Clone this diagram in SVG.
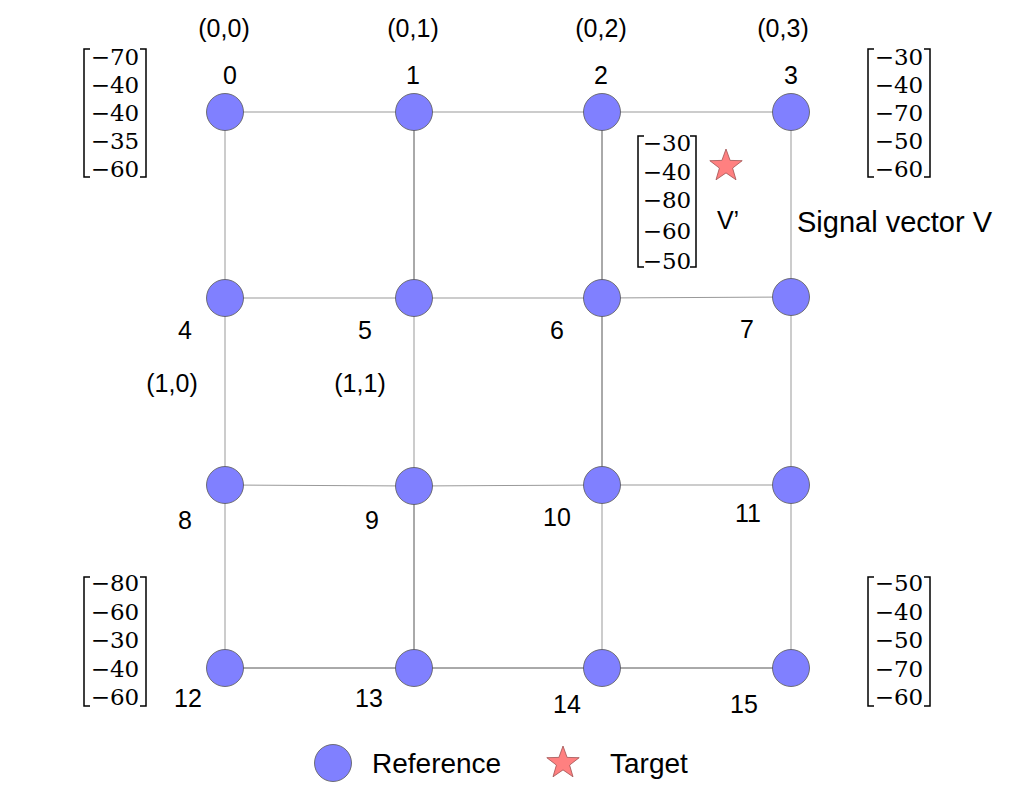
<svg xmlns="http://www.w3.org/2000/svg" width="1024" height="790" viewBox="0 0 1024 790">
<style>
.lbl{font-family:"Liberation Sans",Arial,sans-serif;font-size:25px;fill:#000;text-anchor:middle}
.leg{font-family:"Liberation Sans",Arial,sans-serif;font-size:28px;fill:#000}
.mx{font-family:"DejaVu Serif","Liberation Serif",serif;font-size:23px;fill:#000;text-anchor:middle}
.br{fill:none;stroke:#000;stroke-width:1.5}
.node{fill:#8080FF;stroke:#555;stroke-width:0.8}
.star{fill:#FF8080;stroke:#a05050;stroke-width:0.8}
.e{stroke:#999;stroke-width:1}
.ed{stroke:#555;stroke-width:1}
</style>
<defs>
<polygon id="starshape" points="0,-17 4.1,-5.6 16.2,-5.3 6.6,2.1 10,13.8 0,6.9 -10,13.8 -6.6,2.1 -16.2,-5.3 -4.1,-5.6"/>
</defs>
<rect width="1024" height="790" fill="#fff"/>
<g id="connectors">
<line class="e" x1="225" y1="112" x2="414" y2="112"/>
<line class="e" x1="414" y1="112" x2="602" y2="112"/>
<line class="e" x1="602" y1="112" x2="791" y2="112"/>
<line class="e" x1="225" y1="298" x2="414" y2="298"/>
<line class="e" x1="414" y1="298" x2="602" y2="298"/>
<line class="e" x1="602" y1="298" x2="791" y2="297"/>
<line class="e" x1="225" y1="485" x2="414" y2="486"/>
<line class="e" x1="414" y1="486" x2="602" y2="485"/>
<line class="e" x1="602" y1="485" x2="791" y2="485"/>
<line class="ed" x1="225" y1="668" x2="414" y2="668"/>
<line class="ed" x1="414" y1="668" x2="602" y2="668"/>
<line class="ed" x1="602" y1="668" x2="791" y2="668"/>
<line class="e" x1="225" y1="112" x2="225" y2="298"/>
<line class="e" x1="225" y1="298" x2="225" y2="485"/>
<line class="e" x1="225" y1="485" x2="225" y2="668"/>
<line class="ed" x1="414" y1="112" x2="414" y2="298"/>
<line class="e" x1="414" y1="298" x2="414" y2="486"/>
<line class="ed" x1="414" y1="486" x2="414" y2="668"/>
<line class="ed" x1="602" y1="112" x2="602" y2="298"/>
<line class="ed" x1="602" y1="298" x2="602" y2="485"/>
<line class="e" x1="602" y1="485" x2="602" y2="668"/>
<line class="e" x1="791" y1="112" x2="791" y2="297"/>
<line class="e" x1="791" y1="297" x2="791" y2="485"/>
<line class="e" x1="791" y1="485" x2="791" y2="668"/>
</g>
<g id="n0"><circle class="node" cx="225" cy="112" r="18.5"/><text class="lbl" x="230" y="84">0</text><text class="lbl" x="224" y="37">(0,0)</text></g>
<g id="n1"><circle class="node" cx="414" cy="112" r="18.5"/><text class="lbl" x="413" y="84">1</text><text class="lbl" x="413" y="37">(0,1)</text></g>
<g id="n2"><circle class="node" cx="602" cy="112" r="18.5"/><text class="lbl" x="601" y="84">2</text><text class="lbl" x="601" y="37">(0,2)</text></g>
<g id="n3"><circle class="node" cx="791" cy="112" r="18.5"/><text class="lbl" x="791" y="84">3</text><text class="lbl" x="783" y="37">(0,3)</text></g>
<g id="n4"><circle class="node" cx="225" cy="298" r="18.5"/><text class="lbl" x="185" y="339">4</text><text class="lbl" x="172" y="392">(1,0)</text></g>
<g id="n5"><circle class="node" cx="414" cy="298" r="18.5"/><text class="lbl" x="365" y="339">5</text><text class="lbl" x="360" y="392">(1,1)</text></g>
<g id="n6"><circle class="node" cx="602" cy="298" r="18.5"/><text class="lbl" x="557" y="339">6</text></g>
<g id="n7"><circle class="node" cx="791" cy="297" r="18.5"/><text class="lbl" x="747" y="338">7</text></g>
<g id="n8"><circle class="node" cx="225" cy="485" r="18.5"/><text class="lbl" x="185" y="529">8</text></g>
<g id="n9"><circle class="node" cx="414" cy="486" r="18.5"/><text class="lbl" x="372" y="529">9</text></g>
<g id="n10"><circle class="node" cx="602" cy="485" r="18.5"/><text class="lbl" x="557" y="526">10</text></g>
<g id="n11"><circle class="node" cx="791" cy="485" r="18.5"/><text class="lbl" x="748" y="522">11</text></g>
<g id="n12"><circle class="node" cx="225" cy="668" r="18.5"/><text class="lbl" x="188" y="707">12</text></g>
<g id="n13"><circle class="node" cx="414" cy="668" r="18.5"/><text class="lbl" x="369" y="707">13</text></g>
<g id="n14"><circle class="node" cx="602" cy="668" r="18.5"/><text class="lbl" x="567" y="713">14</text></g>
<g id="n15"><circle class="node" cx="791" cy="668" r="18.5"/><text class="lbl" x="744" y="713">15</text></g>
<g id="target"><use href="#starshape" class="star" x="726" y="166"/><text class="lbl" x="728" y="229">V’</text></g>
<text class="leg" x="797" y="232" style="font-size:29px">Signal vector V</text>
<g id="m0"><path class="br" d="M90,49 H84 V177 H90 M140,49 H146 V177 H140"/>
<text class="mx" x="115" y="65">−70</text><text class="mx" x="115" y="93">−40</text><text class="mx" x="115" y="121">−40</text><text class="mx" x="115" y="149">−35</text><text class="mx" x="115" y="177">−60</text></g>
<g id="m3"><path class="br" d="M874,49 H868 V177 H874 M924,49 H930 V177 H924"/>
<text class="mx" x="899" y="65">−30</text><text class="mx" x="899" y="93">−40</text><text class="mx" x="899" y="121">−70</text><text class="mx" x="899" y="149">−50</text><text class="mx" x="899" y="177">−60</text></g>
<g id="mv"><path class="br" d="M644,136 H638 V267 H644 M690,136 H696 V267 H690"/>
<text class="mx" x="667" y="151">−30</text><text class="mx" x="667" y="180">−40</text><text class="mx" x="667" y="208">−80</text><text class="mx" x="667" y="239">−60</text><text class="mx" x="667" y="269">−50</text></g>
<g id="m12"><path class="br" d="M90,577 H84 V706 H90 M140,577 H146 V706 H140"/>
<text class="mx" x="115" y="591">−80</text><text class="mx" x="115" y="620">−60</text><text class="mx" x="115" y="648">−30</text><text class="mx" x="115" y="677">−40</text><text class="mx" x="115" y="705">−60</text></g>
<g id="m15"><path class="br" d="M874,577 H868 V706 H874 M924,577 H930 V706 H924"/>
<text class="mx" x="899" y="591">−50</text><text class="mx" x="899" y="620">−40</text><text class="mx" x="899" y="648">−50</text><text class="mx" x="899" y="677">−70</text><text class="mx" x="899" y="705">−60</text></g>
<g id="legend">
<circle class="node" cx="333" cy="763" r="18.5"/><text class="leg" x="372" y="773">Reference</text>
<use href="#starshape" class="star" x="563" y="763"/><text class="leg" x="610" y="773">Target</text>
</g>
</svg>
